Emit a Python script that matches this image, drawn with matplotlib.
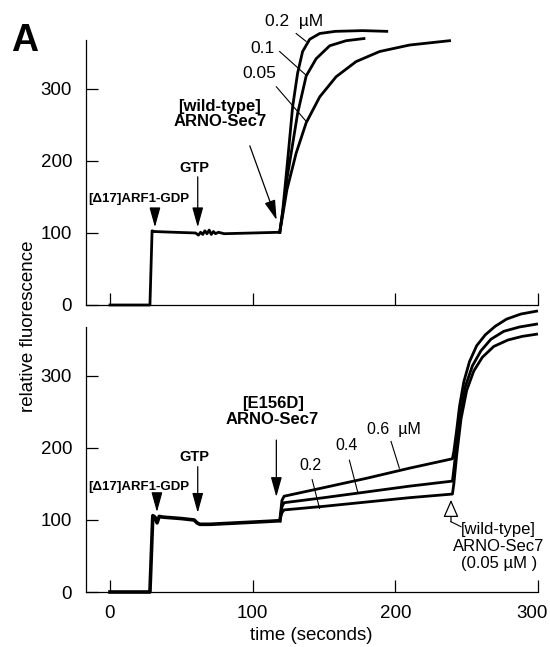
"""Panel A: ARNO-Sec7 exchange traces (tryptophan fluorescence vs time)."""

import matplotlib.pyplot as plt
import matplotlib.transforms as mtransforms

plt.rcParams.update(
    {
        "font.family": ["Liberation Sans", "DejaVu Sans"],
        "font.size": 13.5,
        "axes.linewidth": 0.9,
        "xtick.direction": "in",
        "ytick.direction": "in",
        "xtick.major.size": 8.5,
        "ytick.major.size": 8.5,
        "xtick.major.width": 0.9,
        "ytick.major.width": 0.9,
        "xtick.major.pad": 9,
        "ytick.major.pad": 10,
    }
)

# ---- top panel: wild-type ARNO-Sec7 ----
TOP_BASE_T = [0, 28, 29.5, 31, 45, 60, 62, 63.5, 65, 66.5, 68, 69.5, 71, 72.5, 74, 76, 80, 100, 119]
TOP_BASE_V = [0, 0, 103, 102, 101, 100, 97, 101, 98, 103, 99, 104, 98, 102, 99, 101, 99, 100, 101]

WT_02_T = [119, 121, 123, 125, 128, 131.5, 135, 140, 147, 158, 177, 194]
WT_02_V = [101, 130, 170, 211, 275, 322, 352, 369, 377, 380, 381, 380]
WT_01_T = [119, 121.5, 124, 127, 131.5, 137.5, 144.5, 154, 165.5, 178]
WT_01_V = [101, 135, 175, 211, 266, 318, 342, 360, 367, 370]
WT_005_T = [119, 121.5, 124, 130.5, 137.5, 147, 158.5, 172.5, 189, 210, 238]
WT_005_V = [101, 130, 160, 211, 253, 289, 317, 338, 352, 361, 367]

# ---- bottom panel: E156D mutant, then wild-type chase at 240 s ----
BOT_BASE_T = [0, 28, 30, 31.5, 33, 34.5, 37, 50, 59, 61, 63, 70, 90, 110, 119]
BOT_BASE_V = [0, 0, 106, 104, 96, 105, 104, 102, 100, 96, 94, 94, 96, 98, 99]

E06_T = [119, 120.5, 122, 150, 180, 210, 240, 241, 243, 245, 248, 252, 257, 263, 270, 278, 288, 299]
E06_V = [99, 127, 133, 145, 158, 172, 185, 195, 225, 258, 292, 320, 342, 357, 369, 379, 386, 390]
E04_T = [119, 120.5, 122, 150, 180, 210, 240, 241, 243, 245.5, 249, 254, 260, 267, 276, 287, 299]
E04_V = [99, 118, 124, 131, 139, 147, 154, 170, 205, 245, 285, 314, 335, 351, 362, 368, 372]
E02_T = [119, 120.5, 122, 150, 180, 210, 240, 241, 243, 246, 250, 255, 261, 269, 279, 289, 299]
E02_V = [99, 110, 114, 119, 125, 131, 136, 150, 190, 240, 280, 307, 326, 341, 350, 355, 358]

YTICKS = [0, 100, 200, 300]
XTICKS = [0, 100, 200, 300]
XLABELS = ["0", "100", "200", "300"]

LW = 2.0
BOLD = dict(fontweight="bold", ha="center", va="center", linespacing=1.05)
ARROW = dict(arrowstyle="-|>,head_length=0.9,head_width=0.25", color="black",
             lw=0.9, shrinkA=0, shrinkB=0)


def style_axes(ax, show_xlabels):
    ax.set_xlim(-16.8, 300)
    ax.set_ylim(0, 368)
    ax.spines["top"].set_visible(False)
    ax.spines["right"].set_visible(False)
    ax.set_yticks(YTICKS)
    ax.set_xticks(XTICKS)
    if show_xlabels:
        ax.set_xticklabels(XLABELS)
    else:
        ax.set_xticklabels([])


def arrow(ax, tip, tail):
    ax.annotate("", xy=tip, xytext=tail, arrowprops=ARROW, annotation_clip=False)


def leader(ax, p0, p1):
    ax.plot([p0[0], p1[0]], [p0[1], p1[1]], color="black", lw=0.8, clip_on=False)


fig = plt.figure(figsize=(5.5, 6.47), dpi=100)
ax1 = fig.add_axes([0.1564, 0.5286, 0.8218, 0.4096])
ax2 = fig.add_axes([0.1564, 0.0850, 0.8218, 0.4096])

# top panel
ax1.plot(TOP_BASE_T, TOP_BASE_V, color="black", lw=LW, clip_on=False)
for t, v in [(WT_02_T, WT_02_V), (WT_01_T, WT_01_V), (WT_005_T, WT_005_V)]:
    ax1.plot(t, v, color="black", lw=LW, clip_on=False)
style_axes(ax1, False)

ax1.text(108.4, 394, "0.2  \u00b5M", fontsize=12.5, ha="left", va="center")
ax1.text(115.4, 356, "0.1", fontsize=12.5, ha="right", va="center")
ax1.text(116.8, 322, "0.05", fontsize=12.5, ha="right", va="center")
leader(ax1, (130.5, 377), (137.5, 366))
leader(ax1, (118.9, 352), (137.5, 319))
leader(ax1, (116.6, 303), (137.5, 255))

ax1.text(77, 265, "[wild-type]\nARNO-Sec7", fontsize=12, **BOLD)
arrow(ax1, (116.8, 118), (98, 221))
ax1.text(59.4, 190, "GTP", fontsize=10.5, **BOLD)
arrow(ax1, (61.5, 108), (61.5, 178))
ax1.text(20, 147, "[\u039417]ARF1-GDP", fontsize=9.5, **BOLD)
arrow(ax1, (31.5, 108), (31.5, 129))

# bottom panel
ax2.plot(BOT_BASE_T, BOT_BASE_V, color="black", lw=LW + 0.6, clip_on=False)
for t, v in [(E06_T, E06_V), (E04_T, E04_V), (E02_T, E02_V)]:
    ax2.plot(t, v, color="black", lw=LW, clip_on=False)
style_axes(ax2, True)
# last tick label sits against the right edge, nudge it inwards a little
last = ax2.get_xticklabels()[-1]
last.set_transform(last.get_transform()
                   + mtransforms.ScaledTranslation(-6 / 100, 0, fig.dpi_scale_trans))

ax2.text(180.4, 226, "0.6  \u00b5M", fontsize=11.5, ha="left", va="center")
ax2.text(165.7, 203, "0.4", fontsize=11.5, ha="center", va="center")
ax2.text(140.6, 176, "0.2", fontsize=11.5, ha="center", va="center")
leader(ax2, (197, 209), (202.8, 172))
leader(ax2, (167.8, 183), (173.6, 139))
leader(ax2, (141.7, 156), (146.9, 116))

ax2.text(114, 251, "[E156D]\nARNO-Sec7", fontsize=12, **BOLD)
arrow(ax2, (116.6, 132), (116.6, 211))
ax2.text(59.4, 187, "GTP", fontsize=10.5, **BOLD)
arrow(ax2, (61.5, 110), (61.5, 174))
ax2.text(20, 146, "[\u039417]ARF1-GDP", fontsize=9.5, **BOLD)
arrow(ax2, (32.9, 111), (32.9, 129))

# open arrow for the wild-type chase
ax2.annotate("", xy=(239, 128), xytext=(239, 97.6), annotation_clip=False,
             arrowprops=dict(arrowstyle="-|>,head_length=0.8,head_width=0.35",
                             fc="white", ec="black", lw=0.9, shrinkA=0, shrinkB=0))
leader(ax2, (239, 97.6), (246, 90.7))
ax2.text(272.5, 63, "[wild-type]\nARNO-Sec7\n(0.05 \u00b5M )", fontsize=12,
         ha="center", va="center", linespacing=1.15)

fig.text(0.051, 0.495, "relative fluorescence", rotation=90, ha="center", va="center",
         fontsize=13.5)
fig.text(0.566, 0.018, "time (seconds)", ha="center", va="center", fontsize=13.5)
fig.text(0.044, 0.937, "A", fontsize=27, fontweight="bold", ha="center", va="center")

fig.savefig("out.png", dpi=100)
